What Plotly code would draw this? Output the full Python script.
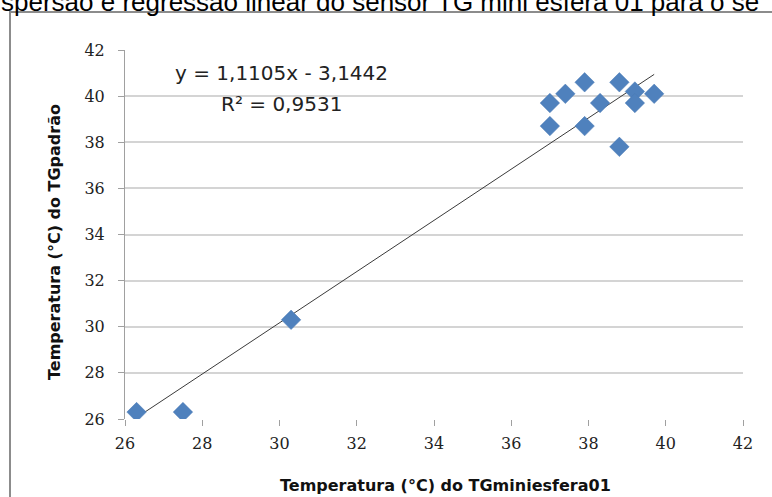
import plotly.graph_objects as go

# Data
x_mini = [26.3, 27.5, 30.3, 37.0, 37.0, 37.4, 37.9, 37.9, 38.3, 38.8, 38.8, 39.2, 39.2, 39.7]
y_padrao = [26.3, 26.3, 30.3, 39.7, 38.7, 40.1, 40.6, 38.7, 39.7, 40.6, 37.8, 40.2, 39.7, 40.1]

slope = 1.1105
intercept = -3.1442
r2 = 0.9531

tick_vals = [26, 28, 30, 32, 34, 36, 38, 40, 42]
tick_text = ["26", "28", "30", "32", "34", "36", "38", "40", "42"]

caption = "spersão e regressão linear do sensor TG mini esfera 01 para o se"
x_title = "Temperatura (°C) do TGminiesfera01"
y_title = "Temperatura (°C) do TGpadrão"
eq_text = "y = 1,1105x - 3,1442"
r2_text = "R² = 0,9531"

x_line = [min(x_mini), max(x_mini)]
y_line = [slope * v + intercept for v in x_line]

W, H = 772, 497
L, R, T, B = 125, 29, 50, 78
PW, PH = W - L - R, H - T - B


def px(x):
    return (x - L) / PW


def py(y):
    return (H - B - y) / PH


fig = go.Figure()
fig.add_trace(go.Scatter(
    x=x_line, y=y_line, mode="lines",
    line=dict(color="#3a3a3a", width=1),
    hoverinfo="skip", showlegend=False,
))
fig.add_trace(go.Scatter(
    x=x_mini, y=y_padrao, mode="markers",
    marker=dict(symbol="diamond", size=15, color="#4f81bd",
                line=dict(color="#4a7ab5", width=0.5)),
    showlegend=False,
))

tick_font = dict(family="DejaVu Serif", size=16, color="#222222")
title_font = dict(family="DejaVu Sans", size=16, color="#111111")

fig.update_layout(
    width=W, height=H,
    margin=dict(l=L, r=R, t=T, b=B),
    paper_bgcolor="white", plot_bgcolor="white",
    xaxis=dict(
        range=[26, 42], tickvals=tick_vals, ticktext=tick_text,
        showgrid=False, zeroline=False,
        showline=False,
        ticks="outside", ticklen=6, tickcolor="#a0a0a0", tickwidth=1,
        tickfont=tick_font, ticklabelstandoff=4,
    ),
    yaxis=dict(
        range=[26, 42], tickvals=tick_vals, ticktext=tick_text,
        showgrid=True, gridcolor="#d4d4d4", gridwidth=2,
        zeroline=False,
        showline=True, linecolor="#a0a0a0", linewidth=1,
        ticks="outside", ticklen=6, tickcolor="#a0a0a0", tickwidth=1,
        tickfont=tick_font, ticklabelstandoff=10,
    ),
    shapes=[
        dict(type="rect", xref="paper", yref="paper",
             x0=px(10), x1=px(790), y0=py(510), y1=py(12),
             line=dict(color="#8c8c8c", width=2), fillcolor="rgba(0,0,0,0)",
             layer="below"),
    ],
    annotations=[
        dict(text=eq_text, xref="paper", yref="paper",
             x=px(281), y=py(73),
             showarrow=False, font=dict(family="DejaVu Sans", size=20, color="#222222"),
             xanchor="center", yanchor="middle"),
        dict(text=r2_text, xref="paper", yref="paper",
             x=px(281), y=py(104),
             showarrow=False, font=dict(family="DejaVu Sans", size=20, color="#222222"),
             xanchor="center", yanchor="middle"),
        dict(text="<b>" + x_title + "</b>", xref="paper", yref="paper",
             x=px(445), y=py(485),
             showarrow=False, font=title_font,
             xanchor="center", yanchor="middle"),
        dict(text="<b>" + y_title + "</b>", xref="paper", yref="paper",
             x=px(55), y=py(242), textangle=-90,
             showarrow=False, font=title_font,
             xanchor="center", yanchor="middle"),
        dict(text=caption, xref="paper", yref="paper",
             x=px(-1), y=py(19),
             showarrow=False, font=dict(family="Liberation Sans", size=26, color="#000000"),
             xanchor="left", yanchor="bottom"),
    ],
)

fig.write_html("out.html", config={"displayModeBar": False},
               post_script="document.body.style.margin='0';")
